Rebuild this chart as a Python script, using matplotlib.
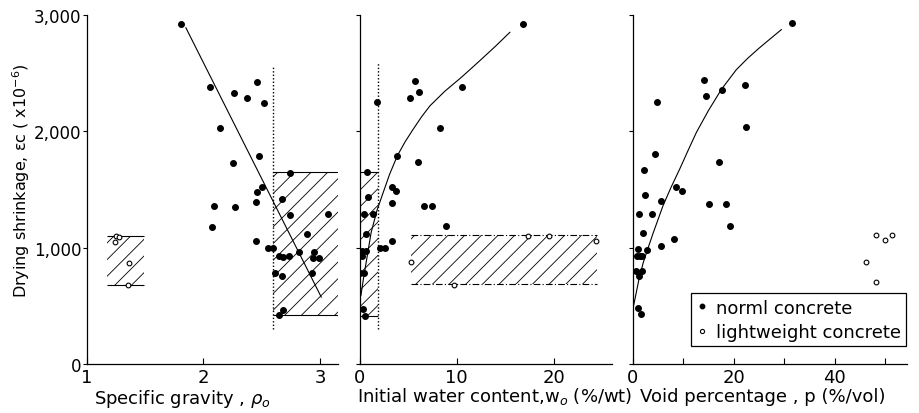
import matplotlib
matplotlib.use('Agg')
import matplotlib.pyplot as plt
from matplotlib.patches import Rectangle
from matplotlib.lines import Line2D

# ---- data ----
y_ticks = [0, 1000, 2000, 3000]
y_tick_labels = ['0', '1,000', '2,000', '3,000']

# (a) specific gravity
sg_norm_x = [1.81, 2.06, 2.26, 2.37, 2.46, 2.52, 2.14, 2.48, 2.25, 2.74, 2.50, 2.46,
             2.67, 2.09, 2.27, 2.45, 2.07, 2.45, 2.55, 2.60, 2.74, 3.07, 2.89, 2.65,
             2.68, 2.73, 2.82, 2.95, 2.94, 2.99, 2.61, 2.67, 2.93, 2.68, 2.65]
sg_norm_y = [2920, 2380, 2330, 2290, 2425, 2245, 2030, 1790, 1725, 1645, 1520, 1480,
             1420, 1360, 1350, 1390, 1180, 1060, 995, 995, 1280, 1290, 1115, 925,
             918, 925, 965, 965, 915, 915, 785, 755, 785, 465, 425]
sg_light_x = [1.24, 1.25, 1.28, 1.36, 1.35]
sg_light_y = [1050, 1100, 1090, 870, 680]
sg_fit_x = [1.85, 3.01]
sg_fit_y = [2890, 575]
sg_norm_box = [2.6, 3.2, 420, 1650]     # x0, x1, y0, y1
sg_light_box = [1.17, 1.49, 680, 1100]
sg_dot_line = [2.6, 300, 2550]          # x, y0, y1

# (b) initial water content
wc_norm_x = [16.9, 10.6, 5.7, 6.1, 5.2, 1.8, 8.3, 3.9, 6.0, 0.8, 3.3, 3.8, 0.9, 3.3,
             6.6, 7.5, 0.5, 1.4, 8.9, 0.7, 3.3, 2.1, 2.6, 0.3, 0.7, 0.3, 0.1, 0.5,
             0.4, 0.6]
wc_norm_y = [2920, 2380, 2435, 2335, 2285, 2250, 2030, 1790, 1735, 1650, 1520, 1485,
             1435, 1380, 1360, 1360, 1290, 1290, 1185, 1115, 1060, 1000, 1000, 975,
             975, 925, 780, 780, 470, 415]
wc_light_x = [5.3, 9.7, 17.4, 19.5, 24.4]
wc_light_y = [880, 680, 1100, 1100, 1060]
wc_fit_x = [0.15, 0.4, 0.8, 1.2, 1.8, 2.45, 3.1, 3.9, 4.7, 5.55, 6.4, 7.27, 8.8,
            10.5, 12.4, 14.0, 15.5]
wc_fit_y = [590, 730, 930, 1130, 1320, 1476, 1630, 1790, 1910, 2020, 2125, 2220, 2345,
            2464, 2607, 2730, 2851]
wc_norm_box = [0, 1.9, 415, 1650]
wc_light_box = [5.3, 24.5, 687, 1110]
wc_dot_line = [1.9, 300, 2590]

# (c) void percentage
vp_norm_x = [31.6, 14.1, 14.5, 17.6, 22.3, 4.8, 22.5, 4.5, 2.3, 17.1, 2.4, 8.5, 9.7,
             5.5, 15.1, 18.4, 1.3, 3.9, 19.2, 2.0, 8.2, 5.5, 1.1, 2.9, 0.8, 1.4, 1.8,
             0.6, 1.8, 1.3, 1.1, 1.6]
vp_norm_y = [2935, 2440, 2300, 2355, 2395, 2250, 2035, 1805, 1670, 1740, 1450, 1525,
             1490, 1400, 1375, 1378, 1290, 1290, 1190, 1130, 1075, 1015, 985, 980,
             930, 930, 930, 797, 802, 760, 480, 432]
vp_light_x = [48.2, 49.9, 51.2, 46.1, 48.1]
vp_light_y = [1109, 1063, 1111, 879, 707]
vp_fit_x = [0.1, 0.45, 1.2, 2.1, 3.1, 4.1, 6.0, 7.6, 9.3, 11.0, 12.6, 15.0, 17.6,
            20.5, 22.8, 25.0, 27.2, 29.4]
vp_fit_y = [487, 559, 720, 874, 1005, 1132, 1361, 1520, 1676, 1840, 1991, 2180, 2364,
            2530, 2630, 2715, 2795, 2874]

plt.rcParams['font.family'] = 'DejaVu Sans'
plt.rcParams['hatch.linewidth'] = 0.6

fig = plt.figure(figsize=(9.19, 4.14), dpi=100)
W, H = 919, 414


def make_axes(px0, px1, xlim):
    ax = fig.add_axes([px0 / W, 1 - 365 / H, (px1 - px0) / W, 349 / H])
    ax.set_xlim(*xlim)
    ax.set_ylim(0, 3000)
    for s in ['top', 'right']:
        ax.spines[s].set_visible(False)
    for s in ['left', 'bottom']:
        ax.spines[s].set_linewidth(0.9)
    ax.set_yticks(y_ticks)
    ax.tick_params(axis='x', direction='in', length=4, width=0.8, labelsize=13, pad=3)
    ax.tick_params(axis='y', direction='out', length=3, width=0.8, labelsize=12, pad=1)
    return ax


def hatch_box(ax, box, ls='-'):
    x0, x1, y0, y1 = box
    ax.add_patch(Rectangle((x0, y0), x1 - x0, y1 - y0, fill=False, hatch='//',
                           edgecolor='black', lw=0))
    ax.hlines([y0, y1], x0, x1, colors='black', lw=0.8, linestyles=ls)


def points(ax, nx, ny, lx, ly):
    ax.plot(nx, ny, 'o', ms=4.0, color='black', zorder=3)
    ax.plot(lx, ly, 'o', ms=3.4, mfc='white', mec='black', mew=0.8, zorder=3)


# (a)
ax1 = make_axes(86.7, 338.3, (1, 3.156))
ax1.set_yticklabels(y_tick_labels)
ax1.set_xticks([1, 2, 3])
hatch_box(ax1, sg_norm_box)
hatch_box(ax1, sg_light_box)
ax1.vlines(sg_dot_line[0], sg_dot_line[1], sg_dot_line[2], colors='black', lw=1.0,
           linestyles=(0, (1, 1.5)))
ax1.plot(sg_fit_x, sg_fit_y, color='black', lw=0.8)
points(ax1, sg_norm_x, sg_norm_y, sg_light_x, sg_light_y)

# (b)
ax2 = make_axes(359.5, 611.7, (0, 26.0))
ax2.set_yticklabels([])
ax2.set_xticks([0, 10, 20])
hatch_box(ax2, wc_norm_box)
hatch_box(ax2, wc_light_box, ls=(0, (6, 2, 1, 2)))
ax2.vlines(wc_dot_line[0], wc_dot_line[1], wc_dot_line[2], colors='black', lw=1.0,
           linestyles=(0, (1, 1.5)))
ax2.plot(wc_fit_x, wc_fit_y, color='black', lw=0.8)
points(ax2, wc_norm_x, wc_norm_y, wc_light_x, wc_light_y)

# (c)
ax3 = make_axes(632.7, 906.7, (0, 54.2))
ax3.set_yticklabels([])
ax3.set_xticks([0, 10, 20, 30, 40, 50])
ax3.set_xticklabels(['0', '', '20', '', '40', ''])
ax3.plot(vp_fit_x, vp_fit_y, color='black', lw=0.8)
points(ax3, vp_norm_x, vp_norm_y, vp_light_x, vp_light_y)

handles = [Line2D([], [], ls='none', marker='o', ms=3.2, color='black'),
           Line2D([], [], ls='none', marker='o', ms=3.0, mfc='white', mec='black', mew=0.8)]
leg = ax3.legend(handles, ['norml concrete', 'lightweight concrete'],
                 loc='upper left', bbox_to_anchor=(0.212, 0.203), borderaxespad=0,
                 fontsize=13, fancybox=False, edgecolor='black', framealpha=1,
                 handlelength=0.6, handletextpad=0.5, borderpad=0.3,
                 labelspacing=0.35)
leg.get_frame().set_linewidth(0.9)

# axis labels
fig.text(182 / W, 1 - 399 / H, 'Specific gravity , $\\rho_o$', ha='center', va='center',
         fontsize=13)
fig.text(495 / W, 1 - 397 / H, 'Initial water content,w$_o$ (%/wt)', ha='center',
         va='center', fontsize=13)
fig.text(763 / W, 1 - 397 / H, 'Void percentage , p (%/vol)', ha='center', va='center',
         fontsize=13)
fig.text(21 / W, 1 - 181 / H, 'Drying shrinkage, εc ( x10$^{-6}$)', ha='center',
         va='center', rotation=90, fontsize=11.5)

fig.savefig('out.png', dpi=100)
